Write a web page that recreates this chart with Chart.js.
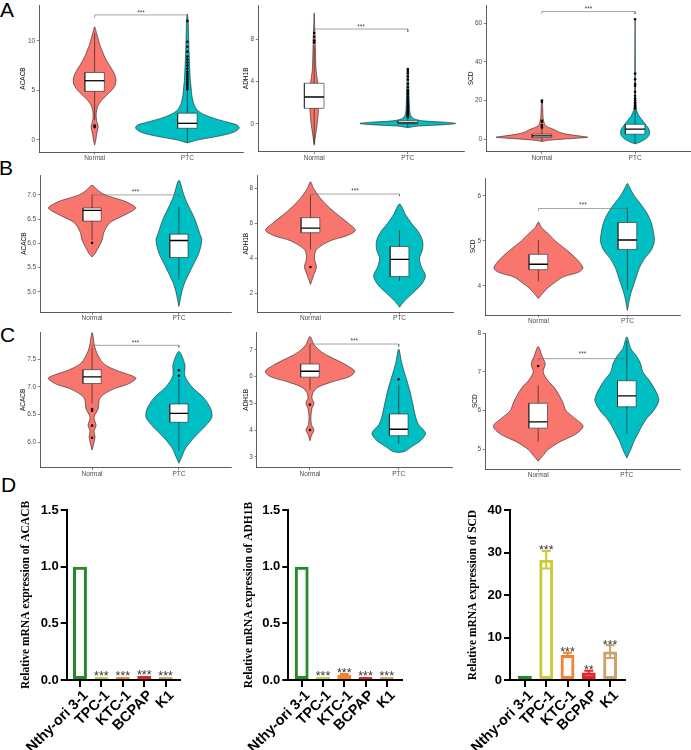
<!DOCTYPE html>
<html><head><meta charset="utf-8">
<script src="https://cdn.jsdelivr.net/npm/chart.js@4.4.1/dist/chart.umd.min.js"></script>
<style>
html,body{margin:0;padding:0;background:#fff;}
body{width:691px;height:750px;position:relative;overflow:hidden;font-family:"Liberation Sans",Arial,sans-serif;}
.lbl{position:absolute;font-size:21px;line-height:21px;color:#000;}
</style></head><body>
<div class="lbl" style="left:0px;top:-1px">A</div>
<div class="lbl" style="left:-1px;top:157px">B</div>
<div class="lbl" style="left:0px;top:324px">C</div>
<div class="lbl" style="left:1px;top:474px">D</div>
<script>
// ---------------- DATA ----------------
const GROUPS = ['Normal', 'PTC'];

// A1  ACACB
const a1Ticks = [0, 5, 10];
const a1TickLabels = ['0', '5', '10'];
const a1NormalLevels = [-0.5, 0, 0.6, 1.0, 1.4, 1.9, 2.5, 3.0, 3.5, 4.0, 4.5, 5.0, 5.5, 6.0, 6.5, 7.0, 7.5, 8.0, 8.5, 9.0, 9.5, 10.0, 10.7, 11.4];
const a1NormalWidths = [0, 0.013, 0.022, 0.032, 0.038, 0.022, 0.016, 0.022, 0.038, 0.075, 0.129, 0.183, 0.220, 0.231, 0.220, 0.194, 0.161, 0.129, 0.102, 0.081, 0.059, 0.043, 0.022, 0];
const a1PtcLevels = [-0.3, 0, 0.4, 0.8, 1.2, 1.5, 1.8, 2.2, 2.6, 3.0, 3.5, 4.0, 4.5, 5.0, 5.5, 6.0, 7.0, 8.0, 9.0, 10.0, 11.0, 12.0, 12.7];
const a1PtcWidths = [0, 0.108, 0.344, 0.505, 0.559, 0.538, 0.430, 0.280, 0.172, 0.108, 0.075, 0.059, 0.048, 0.043, 0.038, 0.032, 0.027, 0.022, 0.018, 0.015, 0.012, 0.009, 0];
const a1NormalBox = [2.0, 4.9, 5.97, 6.8, 10.8];
const a1PtcBox = [-0.2, 1.18, 1.68, 2.7, 4.95];
const a1NormalOut = [1.3, 1.45];
const a1PtcOut = [5.1, 5.3, 5.5, 5.7, 5.9, 6.1, 6.3, 6.5, 6.7, 6.9, 7.2, 7.5, 7.8, 8.1, 8.4, 8.9, 9.4, 9.9, 12.0];
const a1Sig = [12.6, 12.3, 13.0];

// A2  ADH1B
const a2Ticks = [0, 4, 8];
const a2TickLabels = ['0', '4', '8'];
const a2NormalLevels = [-2.0, -1.0, 0, 1.0, 2.0, 3.0, 4.0, 5.0, 6.0, 7.0, 8.0, 9.0, 10.5];
const a2NormalWidths = [0, 0.016, 0.032, 0.043, 0.048, 0.048, 0.037, 0.021, 0.016, 0.013, 0.011, 0.006, 0];
const a2PtcLevels = [-0.35, -0.2, -0.05, 0.05, 0.15, 0.3, 0.5, 0.8, 1.2, 2.0, 3.0, 4.0, 5.2];
const a2PtcWidths = [0, 0.106, 0.426, 0.511, 0.426, 0.160, 0.064, 0.032, 0.021, 0.016, 0.011, 0.009, 0];
const a2NormalBox = [-1.9, 1.48, 2.55, 3.85, 7.4];
const a2PtcBox = [-0.3, 0.02, 0.1, 0.3, 0.55];
const a2NormalOut = [7.7, 7.9, 8.25, 8.6];
const a2PtcOut = [0.62, 0.7, 0.8, 0.9, 1.0, 1.1, 1.2, 1.35, 1.5, 1.65, 1.8, 2.0, 2.2, 2.4, 2.6, 2.8, 3.0, 3.2, 3.5, 3.8, 4.2, 4.5, 4.8, 5.0, 5.2];
const a2Sig = [8.98, 8.7, 9.36];

// A3  SCD
const a3Ticks = [0, 20, 40, 60];
const a3TickLabels = ['0', '20', '40', '60'];
const a3NormalLevels = [-1.2, -0.6, 0, 0.5, 1.0, 1.5, 2.5, 3.5, 4.5, 5.5, 6.5, 7.5, 9, 12, 16, 20];
const a3NormalWidths = [0, 0.064, 0.214, 0.375, 0.493, 0.429, 0.279, 0.193, 0.150, 0.107, 0.054, 0.032, 0.021, 0.011, 0.009, 0];
const a3PtcLevels = [-2.4, -1.5, 0, 1, 2, 3, 4, 5, 6, 7, 8, 9, 10, 11, 12, 13, 15, 18, 25, 35, 62];
const a3PtcWidths = [0, 0.054, 0.107, 0.134, 0.150, 0.155, 0.155, 0.150, 0.139, 0.123, 0.107, 0.091, 0.075, 0.059, 0.043, 0.032, 0.016, 0.006, 0.004, 0.003, 0];
const a3NormalBox = [-1.1, 0.83, 1.7, 2.6, 5.2];
const a3PtcBox = [-2.3, 2.6, 5.2, 7.7, 15.3];
const a3NormalOut = [6.0, 7.0, 7.3, 9.0, 9.5, 19.3, 20.0];
const a3PtcOut = [16, 16.8, 17.5, 18.3, 19, 20, 21, 22.5, 24.5, 27.5, 28.5, 31, 34, 62];
const a3Sig = [66, 64.7, 68.2];

// B1  ACACB
const b1Ticks = [5.0, 5.5, 6.0, 6.5, 7.0];
const b1TickLabels = ['5.0', '5.5', '6.0', '6.5', '7.0'];
const b1NormalLevels = [5.72, 5.8, 5.94, 6.08, 6.22, 6.42, 6.52, 6.62, 6.73, 6.82, 6.89, 7.0, 7.1, 7.2];
const b1NormalWidths = [0, 0.038, 0.080, 0.118, 0.134, 0.201, 0.299, 0.414, 0.503, 0.437, 0.345, 0.149, 0.063, 0];
const b1PtcLevels = [4.7, 5.0, 5.2, 5.5, 5.8, 6.07, 6.2, 6.5, 6.8, 7.0, 7.3];
const b1PtcWidths = [0, 0.034, 0.069, 0.149, 0.230, 0.264, 0.241, 0.184, 0.103, 0.057, 0];
const b1NormalBox = [6.07, 6.46, 6.68, 6.73, 7.0];
const b1PtcBox = [5.25, 5.71, 6.06, 6.19, 6.75];
const b1NormalOut = [6.01];
const b1PtcOut = [];
const b1Sig = [7.0, 6.96, 7.09];

// B2  ADH1B
const b2Ticks = [2, 4, 6, 8];
const b2TickLabels = ['2', '4', '6', '8'];
const b2NormalLevels = [2.5, 3.0, 3.5, 4.0, 4.5, 5.0, 5.3, 5.6, 6.0, 6.5, 7.0, 7.5, 8.0, 8.37];
const b2NormalWidths = [0, 0.034, 0.067, 0.045, 0.067, 0.224, 0.414, 0.504, 0.426, 0.302, 0.190, 0.101, 0.034, 0];
const b2PtcLevels = [1.2, 1.5, 2.0, 2.5, 3.0, 3.5, 4.0, 4.5, 5.0, 5.5, 6.0, 6.5, 7.1];
const b2PtcWidths = [0, 0.045, 0.146, 0.246, 0.291, 0.246, 0.224, 0.258, 0.258, 0.213, 0.134, 0.067, 0];
const b2NormalBox = [4.5, 5.46, 5.72, 6.32, 7.6];
const b2PtcBox = [2.7, 2.95, 3.94, 4.67, 5.6];
const b2NormalOut = [3.5];
const b2PtcOut = [];
const b2Sig = [7.67, 7.55, 7.94];

// B3  SCD
const b3Ticks = [4, 5, 6];
const b3TickLabels = ['4', '5', '6'];
const b3NormalLevels = [3.72, 3.9, 4.0, 4.2, 4.3, 4.4, 4.6, 4.8, 5.0, 5.2, 5.3, 5.42];
const b3NormalWidths = [0, 0.079, 0.135, 0.281, 0.449, 0.500, 0.427, 0.315, 0.191, 0.090, 0.034, 0];
const b3PtcLevels = [3.45, 3.8, 4.0, 4.2, 4.4, 4.6, 4.8, 5.0, 5.2, 5.4, 5.6, 5.8, 6.0, 6.2, 6.28];
const b3PtcWidths = [0, 0.034, 0.067, 0.101, 0.135, 0.191, 0.270, 0.303, 0.292, 0.270, 0.225, 0.157, 0.079, 0.022, 0];
const b3NormalBox = [4.1, 4.36, 4.48, 4.70, 5.02];
const b3PtcBox = [3.9, 4.81, 5.02, 5.41, 5.75];
const b3NormalOut = [];
const b3PtcOut = [];
const b3Sig = [5.72, 5.66, 5.84];

// C1  ACACB
const c1Ticks = [6.0, 6.5, 7.0, 7.5];
const c1TickLabels = ['6.0', '6.5', '7.0', '7.5'];
const c1NormalLevels = [5.86, 6.0, 6.1, 6.2, 6.3, 6.45, 6.6, 6.8, 6.95, 7.05, 7.15, 7.2, 7.3, 7.4, 7.5, 7.7, 7.98];
const c1NormalWidths = [0, 0.023, 0.034, 0.023, 0.046, 0.023, 0.069, 0.092, 0.230, 0.414, 0.506, 0.460, 0.276, 0.149, 0.092, 0.034, 0];
const c1PtcLevels = [5.62, 5.7, 5.9, 6.1, 6.3, 6.45, 6.6, 6.8, 7.0, 7.2, 7.4, 7.64];
const c1PtcWidths = [0, 0.023, 0.080, 0.184, 0.310, 0.379, 0.368, 0.287, 0.149, 0.069, 0.069, 0];
const c1NormalBox = [6.7, 7.06, 7.18, 7.31, 7.7];
const c1PtcBox = [5.85, 6.36, 6.52, 6.69, 7.15];
const c1NormalOut = [6.6, 6.57, 6.3, 6.08];
const c1PtcOut = [7.2, 7.3];
const c1Sig = [7.75, 7.71, 7.83];

// C2  ADH1B
const c2Ticks = [3, 4, 5, 6, 7];
const c2TickLabels = ['3', '4', '5', '6', '7'];
const c2NormalLevels = [3.6, 3.8, 4.0, 4.2, 4.5, 4.8, 5.0, 5.2, 5.4, 5.6, 5.8, 6.0, 6.2, 6.4, 6.6, 6.8, 7.0, 7.2, 7.5];
const c2NormalWidths = [0, 0.017, 0.045, 0.017, 0.011, 0.022, 0.045, 0.022, 0.034, 0.090, 0.246, 0.448, 0.504, 0.426, 0.314, 0.190, 0.101, 0.045, 0];
const c2PtcLevels = [3.16, 3.2, 3.4, 3.6, 3.85, 4.0, 4.2, 4.5, 5.0, 5.5, 6.0, 6.5, 7.03];
const c2PtcWidths = [0, 0.067, 0.157, 0.246, 0.302, 0.280, 0.224, 0.190, 0.157, 0.123, 0.078, 0.034, 0];
const c2NormalBox = [5.5, 5.98, 6.2, 6.47, 7.2];
const c2PtcBox = [3.5, 3.79, 4.03, 4.6, 5.7];
const c2NormalOut = [4.95, 4.0];
const c2PtcOut = [5.9];
const c2Sig = [7.22, 7.12, 7.39];

// C3  SCD
const c3Ticks = [5, 6, 7, 8];
const c3TickLabels = ['5', '6', '7', '8'];
const c3NormalLevels = [4.7, 4.85, 5.0, 5.2, 5.4, 5.6, 5.8, 6.0, 6.2, 6.4, 6.6, 6.8, 7.0, 7.2, 7.4, 7.65];
const c3NormalWidths = [0, 0.056, 0.112, 0.247, 0.427, 0.506, 0.416, 0.315, 0.281, 0.236, 0.180, 0.101, 0.056, 0.079, 0.045, 0];
const c3PtcLevels = [4.78, 5.0, 5.2, 5.4, 5.6, 5.8, 6.0, 6.25, 6.4, 6.6, 6.8, 7.0, 7.2, 7.4, 7.6, 7.9];
const c3PtcWidths = [0, 0.045, 0.079, 0.124, 0.169, 0.225, 0.303, 0.360, 0.348, 0.303, 0.247, 0.180, 0.157, 0.112, 0.045, 0];
const c3NormalBox = [5.2, 5.55, 5.71, 6.19, 6.65];
const c3PtcBox = [5.4, 6.1, 6.38, 6.77, 7.8];
const c3NormalOut = [7.15];
const c3PtcOut = [];
const c3Sig = [7.34, 7.28, 7.51];

// D  qPCR bars
const cellLines = ['Nthy-ori 3-1', 'TPC-1', 'KTC-1', 'BCPAP', 'K1'];
const d1Means = [1.0, 0.006, 0.012, 0.035, 0.025];
const d1Errs = [0, 0.002, 0.003, 0.004, 0.004];
const d1Stars = ['', '***', '***', '***', '***'];
const d1YTicks = [0, 0.5, 1.0, 1.5];
const d1YLabels = ['0.0', '0.5', '1.0', '1.5'];
const d2Means = [1.0, 0.006, 0.045, 0.025, 0.008];
const d2Errs = [0, 0.001, 0.008, 0.004, 0.002];
const d2Stars = ['', '***', '***', '***', '***'];
const d2YTicks = [0, 0.5, 1.0, 1.5];
const d2YLabels = ['0.0', '0.5', '1.0', '1.5'];
const d3Means = [1.0, 28.3, 5.9, 1.75, 6.7];
const d3Errs = [0.05, 2.05, 0.5, 0.45, 1.5];
const d3Stars = ['', '***', '***', '**', '***'];
const d3YTicks = [0, 10, 20, 30, 40];
const d3YLabels = ['0', '10', '20', '30', '40'];

// ---------------- STYLE / LAYOUT ----------------
const FONT = "'Liberation Sans', Arial, sans-serif";
const SERIF = "'Liberation Serif', 'Times New Roman', serif";
const NORMAL_COL = '#F8766D';
const PTC_COL = '#00BFC4';
const BAR_COLORS = ['#26892A', '#C9CB35', '#F3842F', '#E9222A', '#C8A468'];

function mkCanvas(l, t, w, h) {
  const c = document.createElement('canvas');
  c.width = w; c.height = h;
  c.style.cssText = 'position:absolute;left:' + l + 'px;top:' + t + 'px;width:' + w + 'px;height:' + h + 'px';
  document.body.appendChild(c);
  return c;
}
function fixedBox(pl, pt, pr, pb, yw, padT, padR, xh) {
  const cl = Math.floor(pl - yw);
  const ct = Math.max(0, Math.floor(pt - padT));
  const w = Math.ceil(pr + padR) - cl;
  const h = Math.ceil(pb + xh) - ct;
  return {cl, ct, w, h, yW: pl - cl, top: pt - ct, right: w - (pr - cl), xH: h - (pb - ct)};
}

const textPlugin = {
  id: 'texts',
  afterDatasetsDraw(chart, args, opts) {
    const ctx = chart.ctx, x = chart.scales.x, y = chart.scales.y;
    (opts.items || []).forEach(it => {
      ctx.save();
      ctx.fillStyle = it.color; ctx.font = it.size + 'px ' + FONT;
      ctx.textAlign = 'center'; ctx.textBaseline = 'alphabetic';
      ctx.fillText(it.text, x.getPixelForValue(it.x), y.getPixelForValue(it.y) + it.size * 0.57);
      ctx.restore();
    });
  }
};

function poly(center, levels, widths) {
  const pts = [];
  for (let i = 0; i < levels.length; i++) pts.push({x: center + widths[i], y: levels[i]});
  for (let i = levels.length - 2; i >= 1; i--) pts.push({x: center - widths[i], y: levels[i]});
  pts.push({x: center + widths[0], y: levels[0]});
  return pts;
}

const BOXH = 0.105;
function violinChart(L, D) {
  const g = fixedBox(L.box[0], L.box[1], L.box[2], L.box[3], 30, 5, 3, 12);
  const cv = mkCanvas(g.cl, g.ct, g.w, g.h);
  const ds = [];
  ds.push({data: [{x: 1, y: D.sig[1]}, {x: 1, y: D.sig[0]}, {x: 2, y: D.sig[0]}, {x: 2, y: D.sig[1]}],
    borderColor: '#666', borderWidth: 0.6, pointRadius: 0, fill: false, tension: 0, order: 1});
  const gs = [
    {c: 1, lv: D.nLv, wd: D.nWd, bx: D.nBox, out: D.nOut, col: NORMAL_COL},
    {c: 2, lv: D.pLv, wd: D.pWd, bx: D.pBox, out: D.pOut, col: PTC_COL}
  ];
  gs.forEach(G => {
    const b = G.bx;
    ds.push({data: G.out.map(v => ({x: G.c, y: v})), showLine: false, pointRadius: 1.3,
      pointBackgroundColor: '#000', pointBorderWidth: 0, order: 2});
    ds.push({data: [{x: G.c - BOXH, y: b[2]}, {x: G.c + BOXH, y: b[2]}], borderColor: '#000',
      borderWidth: 1.3, pointRadius: 0, fill: false, tension: 0, order: 3});
    ds.push({data: [{x: G.c - BOXH, y: b[1]}, {x: G.c + BOXH, y: b[1]}, {x: G.c + BOXH, y: b[3]}, {x: G.c - BOXH, y: b[3]}, {x: G.c - BOXH, y: b[1]}],
      borderColor: '#222', backgroundColor: '#fff', borderWidth: 0.6, pointRadius: 0, fill: 'shape', tension: 0, order: 4});
    ds.push({data: [{x: G.c, y: b[0]}, {x: G.c, y: b[4]}], borderColor: '#111', borderWidth: 0.6,
      pointRadius: 0, fill: false, tension: 0, order: 5});
    ds.push({data: poly(G.c, G.lv, G.wd), borderColor: '#222', backgroundColor: G.col, borderWidth: 0.6,
      pointRadius: 0, fill: 'shape', tension: 0.3, order: 6});
  });
  const tickFont = {family: FONT, size: 6.5, lineHeight: 1};
  new Chart(cv, {
    type: 'line',
    data: {datasets: ds},
    plugins: [textPlugin],
    options: {
      responsive: false, animation: false, devicePixelRatio: 1, events: [],
      layout: {padding: {top: g.top, right: g.right, left: 0, bottom: 0}},
      plugins: {legend: {display: false}, tooltip: {enabled: false},
        texts: {items: [{x: 1.5, y: D.sig[2], text: '***', size: 6.5, color: '#444'}]}},
      scales: {
        x: {type: 'linear', min: 0.4, max: 2.6,
          afterBuildTicks: a => { a.ticks = [{value: 1}, {value: 2}]; },
          ticks: {autoSkip: false, maxRotation: 0, callback: v => GROUPS[Math.round(v) - 1], font: tickFont, color: '#4D4D4D', padding: 0.5},
          grid: {drawOnChartArea: false, drawTicks: true, tickLength: 2.3, color: '#333', lineWidth: 0.6},
          border: {display: true, color: '#333', width: 0.8},
          afterFit: s => { s.height = g.xH; }},
        y: {type: 'linear', min: L.yr[0], max: L.yr[1],
          afterBuildTicks: a => { a.ticks = D.ticks.map(v => ({value: v})); },
          ticks: {autoSkip: false, callback: (v, i) => D.labels[i], font: tickFont, color: '#4D4D4D', padding: 1.5},
          grid: {drawOnChartArea: false, drawTicks: true, tickLength: 2.3, color: '#333', lineWidth: 0.6},
          border: {display: true, color: '#333', width: 0.8},
          title: {display: true, text: L.gene, color: '#111', font: {family: FONT, size: 6.5, lineHeight: 1.2},
            padding: {top: L.titleX - g.cl - 3.9, bottom: 0}},
          afterFit: s => { s.width = g.yW; }}
      }
    }
  });
}

const errPlugin = {
  id: 'errbars',
  afterDatasetsDraw(chart, args, o) {
    const meta = chart.getDatasetMeta(0), y = chart.scales.y, ctx = chart.ctx;
    meta.data.forEach((el, i) => {
      const m = o.means[i], e = o.errs[i];
      const yt = y.getPixelForValue(m + e), yb = y.getPixelForValue(m - e);
      ctx.save();
      if (e > 0 && yb - yt > 1) {
        ctx.strokeStyle = o.colors[i]; ctx.lineWidth = 2;
        ctx.beginPath();
        ctx.moveTo(el.x, yt); ctx.lineTo(el.x, yb);
        ctx.moveTo(el.x - 4.5, yt); ctx.lineTo(el.x + 4.5, yt);
        ctx.moveTo(el.x - 4.5, yb); ctx.lineTo(el.x + 4.5, yb);
        ctx.stroke();
      }
      if (o.stars[i]) {
        const top = Math.min(el.y, yt);
        ctx.fillStyle = '#333'; ctx.font = '12.5px ' + FONT;
        ctx.textAlign = 'center'; ctx.textBaseline = 'alphabetic';
        ctx.fillText(o.stars[i], el.x, top + 3.4);
      }
      ctx.restore();
    });
  }
};

function barChart(L, D) {
  const g = fixedBox(L.box[0], L.box[1], L.box[2], L.box[3], L.box[0] - L.canvasLeft, 15, 22, 750 - L.box[3]);
  const cv = mkCanvas(g.cl, g.ct, g.w, g.h);
  const fy = {family: FONT, size: 13, weight: 'bold'};
  const fx = {family: FONT, size: 14.5, weight: 'bold'};
  new Chart(cv, {
    type: 'bar',
    data: {datasets: [{
      data: D.means.map((v, i) => ({x: i, y: v})),
      backgroundColor: 'rgba(255,255,255,0)', borderColor: BAR_COLORS, borderWidth: 3,
      borderSkipped: false, minBarLength: 3, barPercentage: 0.65, categoryPercentage: 1
    }]},
    plugins: [errPlugin],
    options: {
      responsive: false, animation: false, devicePixelRatio: 1, events: [],
      layout: {padding: {top: g.top, right: g.right, left: 0, bottom: 0}},
      plugins: {legend: {display: false}, tooltip: {enabled: false},
        errbars: {means: D.means, errs: D.errs, stars: D.stars, colors: BAR_COLORS}},
      scales: {
        x: {type: 'linear', min: L.xr[0], max: L.xr[1], offset: false,
          afterBuildTicks: a => { a.ticks = cellLines.map((c, i) => ({value: i})); },
          ticks: {autoSkip: false, minRotation: 45, maxRotation: 45, labelOffset: 6, callback: v => cellLines[Math.round(v)], font: fx, color: '#000', padding: 0},
          grid: {offset: false, drawOnChartArea: false, drawTicks: true, tickLength: 7, color: '#000', lineWidth: 2},
          border: {display: true, color: '#000', width: 2},
          afterFit: s => { s.height = g.xH; }},
        y: {type: 'linear', min: D.yTicks[0], max: D.yTicks[D.yTicks.length - 1],
          afterBuildTicks: a => { a.ticks = D.yTicks.map(v => ({value: v})); },
          ticks: {autoSkip: false, callback: (v, i) => D.yLabels[i], font: fy, color: '#000', padding: 2},
          grid: {drawOnChartArea: false, drawTicks: true, tickLength: 6, color: '#000', lineWidth: 2},
          border: {display: true, color: '#000', width: 2},
          title: {display: true, text: 'Relative mRNA expression of ' + L.gene, color: '#000',
            font: {family: SERIF, size: 11.5, weight: 'bold', lineHeight: 1.2},
            padding: {top: L.titleX - g.cl - 6.9, bottom: 0}},
          afterFit: s => { s.width = g.yW; }}
      }
    }
  });
}

const violinLayout = [
  {gene: 'ACACB', box: [39, 5, 244, 152], yr: [-1.21, 13.6], titleX: 23},
  {gene: 'ADH1B', box: [258, 5, 465, 151.7], yr: [-2.62, 11.25], titleX: 246},
  {gene: 'SCD', box: [486, 5, 691.5, 151.7], yr: [-6.46, 69.4], titleX: 471.7},
  {gene: 'ACACB', box: [40, 175, 231.4, 312.3], yr: [4.58, 7.41], titleX: 24},
  {gene: 'ADH1B', box: [257, 175, 453.5, 312.3], yr: [0.91, 8.76], titleX: 246.7},
  {gene: 'SCD', box: [485, 178, 680.8, 315], yr: [3.35, 6.4], titleX: 473.3},
  {gene: 'ACACB', box: [40, 332, 231.4, 467.7], yr: [5.54, 7.99], titleX: 23.3},
  {gene: 'ADH1B', box: [256.7, 332, 453, 467.7], yr: [2.59, 7.67], titleX: 246},
  {gene: 'SCD', box: [485, 333, 681, 469.3], yr: [4.49, 8.0], titleX: 475}
];
const violinData = [
  {ticks: a1Ticks, labels: a1TickLabels, nLv: a1NormalLevels, nWd: a1NormalWidths, pLv: a1PtcLevels, pWd: a1PtcWidths, nBox: a1NormalBox, pBox: a1PtcBox, nOut: a1NormalOut, pOut: a1PtcOut, sig: a1Sig},
  {ticks: a2Ticks, labels: a2TickLabels, nLv: a2NormalLevels, nWd: a2NormalWidths, pLv: a2PtcLevels, pWd: a2PtcWidths, nBox: a2NormalBox, pBox: a2PtcBox, nOut: a2NormalOut, pOut: a2PtcOut, sig: a2Sig},
  {ticks: a3Ticks, labels: a3TickLabels, nLv: a3NormalLevels, nWd: a3NormalWidths, pLv: a3PtcLevels, pWd: a3PtcWidths, nBox: a3NormalBox, pBox: a3PtcBox, nOut: a3NormalOut, pOut: a3PtcOut, sig: a3Sig},
  {ticks: b1Ticks, labels: b1TickLabels, nLv: b1NormalLevels, nWd: b1NormalWidths, pLv: b1PtcLevels, pWd: b1PtcWidths, nBox: b1NormalBox, pBox: b1PtcBox, nOut: b1NormalOut, pOut: b1PtcOut, sig: b1Sig},
  {ticks: b2Ticks, labels: b2TickLabels, nLv: b2NormalLevels, nWd: b2NormalWidths, pLv: b2PtcLevels, pWd: b2PtcWidths, nBox: b2NormalBox, pBox: b2PtcBox, nOut: b2NormalOut, pOut: b2PtcOut, sig: b2Sig},
  {ticks: b3Ticks, labels: b3TickLabels, nLv: b3NormalLevels, nWd: b3NormalWidths, pLv: b3PtcLevels, pWd: b3PtcWidths, nBox: b3NormalBox, pBox: b3PtcBox, nOut: b3NormalOut, pOut: b3PtcOut, sig: b3Sig},
  {ticks: c1Ticks, labels: c1TickLabels, nLv: c1NormalLevels, nWd: c1NormalWidths, pLv: c1PtcLevels, pWd: c1PtcWidths, nBox: c1NormalBox, pBox: c1PtcBox, nOut: c1NormalOut, pOut: c1PtcOut, sig: c1Sig},
  {ticks: c2Ticks, labels: c2TickLabels, nLv: c2NormalLevels, nWd: c2NormalWidths, pLv: c2PtcLevels, pWd: c2PtcWidths, nBox: c2NormalBox, pBox: c2PtcBox, nOut: c2NormalOut, pOut: c2PtcOut, sig: c2Sig},
  {ticks: c3Ticks, labels: c3TickLabels, nLv: c3NormalLevels, nWd: c3NormalWidths, pLv: c3PtcLevels, pWd: c3PtcWidths, nBox: c3NormalBox, pBox: c3PtcBox, nOut: c3NormalOut, pOut: c3PtcOut, sig: c3Sig}
];
violinLayout.forEach((L, i) => violinChart(L, violinData[i]));

const barLayout = [
  {gene: 'ACACB', box: [66.7, 510, 180, 680], xr: [-0.62, 4.67], titleX: 26, canvasLeft: 0},
  {gene: 'ADH1B', box: [288.3, 510, 401.7, 680], xr: [-0.63, 4.7], titleX: 249, canvasLeft: 232},
  {gene: 'SCD', box: [510, 510, 625, 680], xr: [-0.7, 4.7], titleX: 473, canvasLeft: 455}
];
const barData = [
  {means: d1Means, errs: d1Errs, stars: d1Stars, yTicks: d1YTicks, yLabels: d1YLabels},
  {means: d2Means, errs: d2Errs, stars: d2Stars, yTicks: d2YTicks, yLabels: d2YLabels},
  {means: d3Means, errs: d3Errs, stars: d3Stars, yTicks: d3YTicks, yLabels: d3YLabels}
];
barLayout.forEach((L, i) => barChart(L, barData[i]));
</script>
</body></html>
